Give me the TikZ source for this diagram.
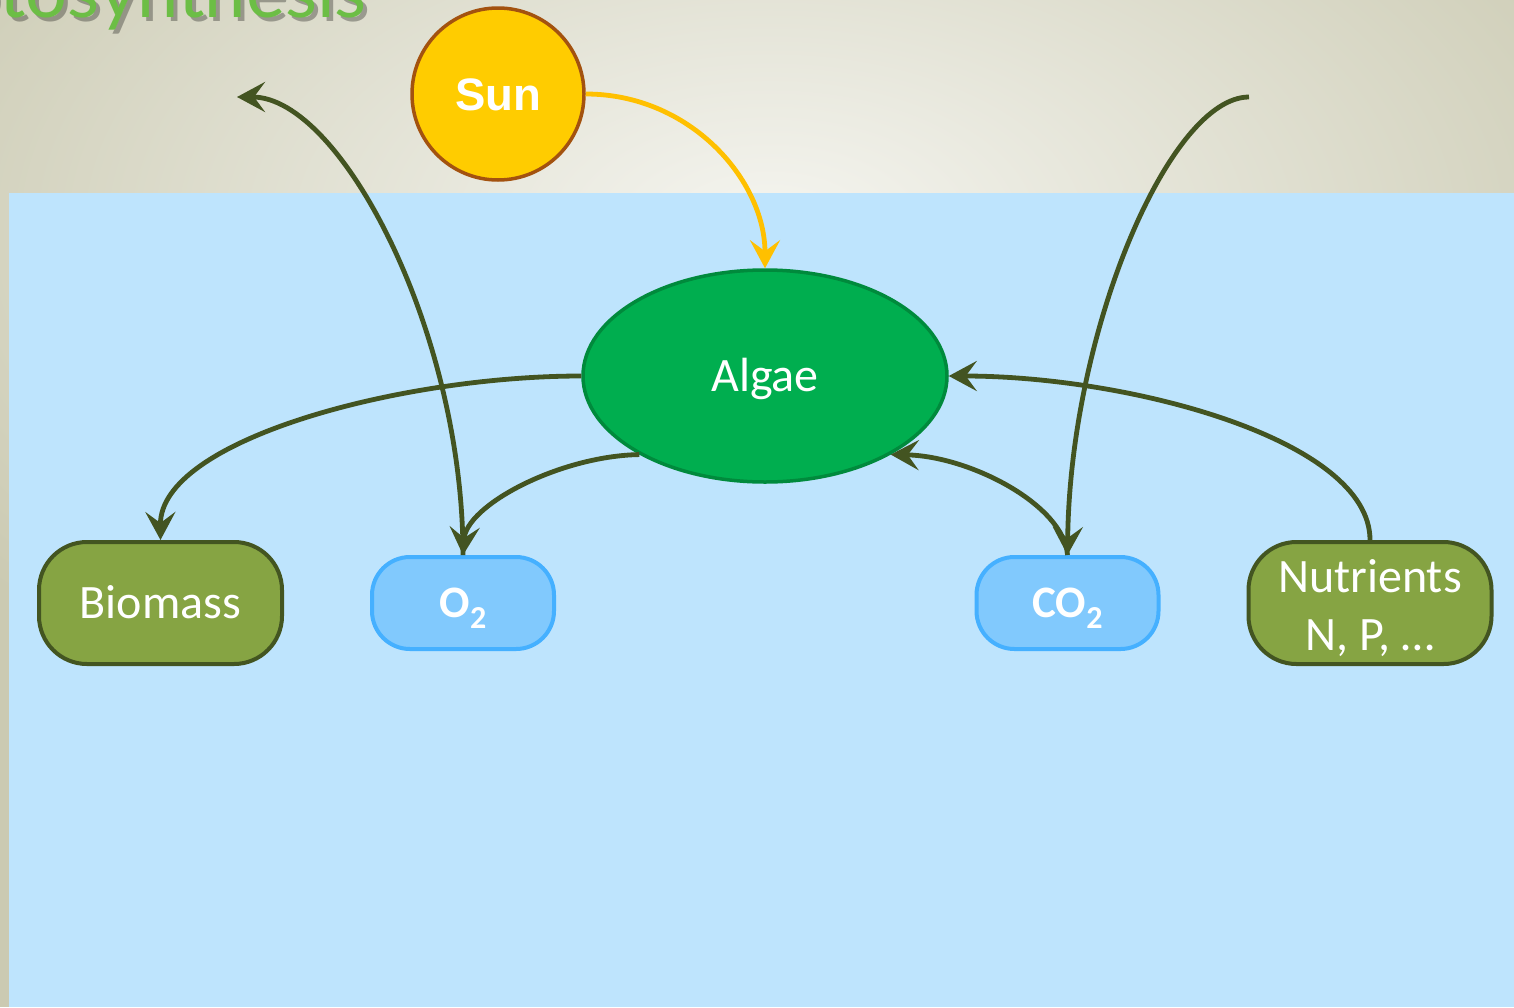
\documentclass[tikz,border=0pt]{standalone}
\usepackage{fontspec}
\setmainfont{Carlito}
\newfontfamily\sunfont{Liberation Sans}
\newfontfamily\titlefont{Lato}
\usetikzlibrary{arrows.meta,shapes.geometric}
\definecolor{bgout}{HTML}{CBCAB2}
\definecolor{bgin}{HTML}{F5F5F0}
\definecolor{water}{HTML}{BEE4FD}
\definecolor{sunfill}{HTML}{FFCC00}
\definecolor{sunedge}{HTML}{A3520F}
\definecolor{sunarrow}{HTML}{FFC000}
\definecolor{algfill}{HTML}{00AE4F}
\definecolor{algedge}{HTML}{008A3C}
\definecolor{olivefill}{HTML}{86A443}
\definecolor{oliveedge}{HTML}{435521}
\definecolor{bluefill}{HTML}{81C9FD}
\definecolor{blueedge}{HTML}{45B0FF}
\definecolor{conncol}{HTML}{435421}
\definecolor{titlegreen}{HTML}{6CBE45}
\tikzset{
  sunnode/.style={circle, fill=sunfill, draw=sunedge, line width=3.5pt, minimum size=172pt, inner sep=0pt,
    text=white, font=\sunfont\bfseries\fontsize{45.5}{45.5}\selectfont, text height=33pt, text depth=0pt},
  algnode/.style={ellipse, fill=algfill, draw=algedge, line width=3.5pt, minimum width=364pt, minimum height=212pt,
    inner sep=0pt, text=white, font=\fontsize{48}{48}\selectfont, text height=30pt, text depth=0pt},
  olivebox/.style={rectangle, rounded corners=48pt, fill=olivefill, draw=oliveedge, line width=4pt,
    minimum width=243pt, minimum height=122pt, inner sep=0pt, text=white, font=\fontsize{48}{58}\selectfont,
    text height=30pt, text depth=0pt, align=center},
  bluebox/.style={rectangle, rounded corners=38pt, fill=bluefill, draw=blueedge, line width=4pt,
    minimum width=182pt, minimum height=92pt, inner sep=0pt, text=white, font=\bfseries\fontsize{45}{45}\selectfont,
    text height=29pt, text depth=0pt},
  conn/.style={draw=conncol, line width=4.8pt, -{Stealth[length=28pt,width=30pt,inset=11pt]}},
  sunconn/.style={draw=sunarrow, line width=4.8pt, -{Stealth[length=28pt,width=30pt,inset=11pt]}},
  titletext/.style={anchor=base east, inner sep=0pt, font=\titlefont\fontsize{74}{74}\selectfont}
}
\newcommand{\subtwo}{\raisebox{-11pt}{\fontsize{32}{32}\selectfont 2}}
\begin{document}
\begin{tikzpicture}[x=1pt,y=-1pt]
\useasboundingbox (0,0) rectangle (1514,1007);
\clip (0,0) rectangle (1514,1007);
% background
\fill[bgout] (0,0) rectangle (1514,1007);
\shade[inner color=bgin, outer color=bgout] (770,230) ellipse [x radius=1000, y radius=560];
\fill[water] (9,193) rectangle (1514,1007);
% title
\node[titletext, text=black, opacity=0.3] (titleshadow) at (371,21) {Photosynthesis};
\node[titletext, text=titlegreen] (title) at (367,17) {Photosynthesis};
% nodes
\node[sunnode] (sun) at (498,94) {Sun};
\node[algnode] (algae) at (765,376) {Algae};
\node[olivebox] (biomass) at (160.5,603) {Biomass};
\node[bluebox] (o2) at (463,603) {O\subtwo};
\node[bluebox] (co2) at (1067.5,603) {CO\subtwo};
\node[olivebox, text height=94pt, text depth=0pt] (nutrients) at (1370,603) {Nutrients\\N, P, …};
\coordinate (o2air) at (237,97);
\coordinate (co2air) at (1249,97);
% connectors
\draw[sunconn] (sun.east) .. controls (690,94) and (765,180) .. (algae.north);
\draw[conn] (algae.west) .. controls (400,376) and (160,440) .. (biomass.north);
\draw[conn] (algae.212) .. controls (560,456) and (466,505) .. (o2.north);
\draw[conn] (o2.north) .. controls (463,330) and (340,97) .. (o2air);
\draw[conn] (co2air) .. controls (1170,97) and (1070,330) .. (co2.north);
\draw[conn] (co2.north) .. controls (1064,505) and (970,456) .. (algae.328);
\draw[conn] (nutrients.north) .. controls (1370,440) and (1130,376) .. (algae.east);
\end{tikzpicture}
\end{document}
